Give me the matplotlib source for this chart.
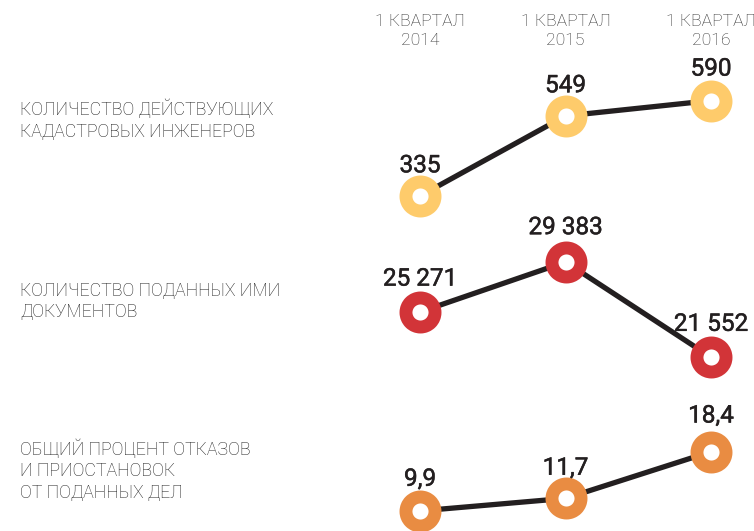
import matplotlib
matplotlib.use("Agg")
import matplotlib.pyplot as plt
import matplotlib.transforms as mtransforms
import matplotlib.patheffects as pe

# ---- data ----
periods = ["1 КВАРТАЛ\n2014", "1 КВАРТАЛ\n2015", "1 КВАРТАЛ\n2016"]
row_titles = [
    "КОЛИЧЕСТВО ДЕЙСТВУЮЩИХ\nКАДАСТРОВЫХ ИНЖЕНЕРОВ",
    "КОЛИЧЕСТВО ПОДАННЫХ ИМИ\nДОКУМЕНТОВ",
    "ОБЩИЙ ПРОЦЕНТ ОТКАЗОВ\nИ ПРИОСТАНОВОК\nОТ ПОДАННЫХ ДЕЛ",
]
engineers = [335, 549, 590]
documents = [25271, 29383, 21552]
refusals = [9.9, 11.7, 18.4]
engineers_labels = ["335", "549", "590"]
documents_labels = ["25 271", "29 383", "21 552"]
refusals_labels = ["9,9", "11,7", "18,4"]

series = [engineers, documents, refusals]
labels = [engineers_labels, documents_labels, refusals_labels]
colors = ["#FECB6B", "#D23438", "#E98C42"]
ylims = [(-561, 859), (7261, 50929), (7.016, 83.25)]
title_y = [120, 301.5, 470.5]  # pixel centers from top
label_offsets = [[17, 17, 18], [19, 20, 19], [18, 17, 21]]

W, H = 754, 531
fig = plt.figure(figsize=(W / 100, H / 100), dpi=100)
fig.patch.set_facecolor("white")

x = [0, 1, 2]
xl = (-420 / 145.5, (W - 420) / 145.5)

axes = []
for i in range(3):
    ax = fig.add_axes([0, 0, 1, 1])
    ax.set_xlim(*xl)
    ax.set_ylim(*ylims[i])
    ax.axis("off")
    ax.patch.set_alpha(0)
    ax.plot(x, series[i], color="#231F20", lw=3.8, zorder=2, solid_capstyle="butt",
            clip_on=False)
    ax.plot(x, series[i], "o", ms=20.9, mew=9.3, mec=colors[i], mfc="white",
            zorder=3, clip_on=False)
    for j in range(3):
        ax.annotate(labels[i][j], (x[j], series[i][j]), xytext=(0, label_offsets[i][j]),
                    textcoords="offset points", ha="center", va="baseline",
                    fontsize=17.5, fontfamily="Roboto", fontweight="normal",
                    color="#231F20", zorder=4, annotation_clip=False,
                    path_effects=[pe.withStroke(linewidth=0.35, foreground="#231F20")])
    fig.text(20 / W, 1 - title_y[i] / H, row_titles[i], ha="left", va="center",
             fontsize=12.8, fontfamily="Roboto", fontweight="light",
             color="#1E1E1E", linespacing=1.25)
    axes.append(ax)

trans = mtransforms.blended_transform_factory(axes[0].transData, fig.transFigure)
for j in range(3):
    axes[0].text(x[j], 1 - 31 / H, periods[j], transform=trans, ha="center",
                 va="center", fontsize=12.6, fontfamily="Roboto", fontweight="light",
                 color="#333333", linespacing=1.3)

fig.savefig("out.png", dpi=100, facecolor="white")
